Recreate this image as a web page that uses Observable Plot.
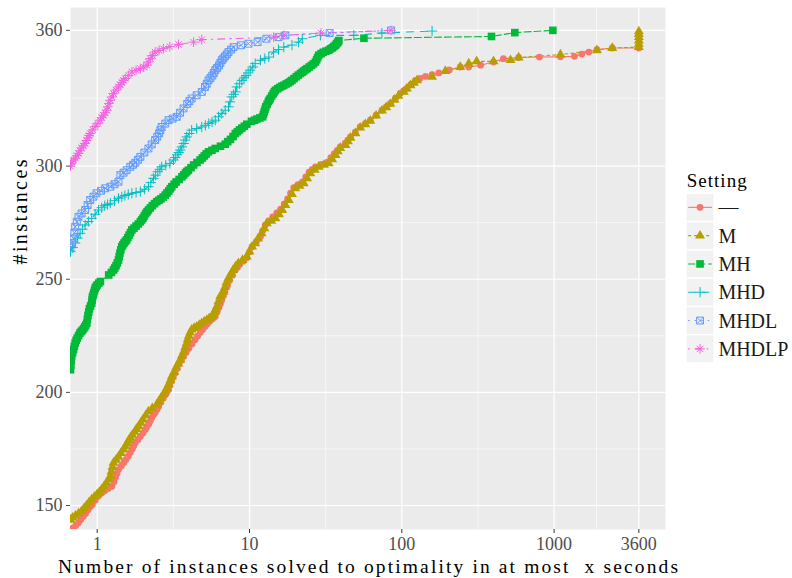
<!DOCTYPE html>
<html>
<head>
<meta charset="utf-8">
<script src="https://cdn.jsdelivr.net/npm/d3@7"></script>
<script src="https://cdn.jsdelivr.net/npm/@observablehq/plot@0.6"></script>
<style>
  html, body { margin: 0; padding: 0; background: #ffffff; }
  #wrap { position: relative; width: 792px; height: 578px; font-family: "Liberation Serif", serif; }
  #chart { position: absolute; left: 0; top: 0; }
  #legend { position: absolute; left: 680px; top: 165px; }
</style>
</head>
<body>
<div id="wrap"><div id="chart"></div><div id="legend"></div></div>
<script>
// ---------- data ----------
const settings = ["—", "M", "MH", "MHD", "MHDL", "MHDLP"];
const xTicks = [1, 10, 100, 1000, 3600];
const yTicks = [150, 200, 250, 300, 360];
const xTitle = "Number of instances solved to optimality in at most  x seconds";
const yTitle = "#instances";
const legendTitle = "Setting";

// [seconds, #instances] per setting
const solvedNone = [[0.68,139.6],[0.70,140.2],[0.727,141.3],[0.754,142.4],[0.78,143.8],[0.81,145.2],[0.84,146.5],[0.87,148],[0.90,149.3],[0.93,150.5],[0.97,152.3],[1.02,154.2],[1.07,155.5],[1.12,156.5],[1.18,157.5],[1.25,158.5],[1.29,160.5],[1.32,162.5],[1.35,164.2],[1.38,165.9],[1.44,167.5],[1.50,169],[1.55,170.4],[1.60,171.8],[1.65,173.4],[1.70,175],[1.74,176.4],[1.78,177.7],[1.85,179.1],[1.92,180.5],[2.0,182],[2.07,183.6],[2.12,184.8],[2.18,186],[2.23,187.3],[2.28,188.7],[2.34,190],[2.40,191],[2.47,192.4],[2.53,193.8],[2.62,195.6],[2.72,197.5],[2.83,199.3],[2.94,201.2],[3.0,203],[3.08,205],[3.16,206.8],[3.25,208.6],[3.35,210.5],[3.45,212.5],[3.57,214.2],[3.69,215.9],[3.84,217.7],[4.0,219.5],[4.2,221.4],[4.39,223.3],[4.57,224.9],[4.75,226.5],[4.93,227.8],[5.11,229.1],[5.3,230.3],[5.5,231.5],[5.73,232.5],[5.96,233.5],[6.13,235.5],[6.3,237.5],[6.44,239.2],[6.58,240.9],[6.74,242.7],[6.9,244.5],[7.15,247],[7.4,249.5],[7.73,251.8],[8.07,254.1],[8.33,255.3],[8.6,256.5],[9.1,258],[9.6,259.5],[10.0,262],[10.4,264.4],[11.1,266.6],[11.8,268.8],[12.2,271.4],[12.7,274],[13.4,275.8],[14.2,277.5],[15.1,279.3],[16.0,281],[16.9,283.3],[17.8,285.5],[18.6,288],[19.5,290.5],[20.8,291.8],[22.3,293],[23.4,295.2],[24.6,297.3],[25.8,298.5],[27.1,299.7],[29.7,300.8],[32.5,301.8],[34.2,303.7],[36,305.5],[37.7,307],[39.4,308.5],[42.5,310.2],[44.2,311.5],[46,312.9],[49.5,315],[53.3,317.3],[57.5,318.8],[62.1,320.3],[67.8,322.5],[74.1,324.7],[79,326.2],[84.2,327.7],[90.9,330],[98.1,332.3],[103,333.3],[108,334.3],[115,336.1],[123,337.9],[132,338.8],[143,339.7],[158,340.4],[175,341.2],[205,342.5],[242,343.8],[275,343.8],[329,344.6],[400,346],[465,347.5],[585,348],[800,348.2],[1100,348.3],[1360,348.5],[1520,349.5],[1690,350.4],[1910,351.5],[2410,352.2],[3600,352.2]];

const solvedM = [[0.668,143.7],[0.69,144.6],[0.72,145.5],[0.755,146.5],[0.79,147.5],[0.82,148.8],[0.85,150],[0.885,151.4],[0.92,152.7],[0.96,153.9],[1.0,155],[1.035,156],[1.07,157.1],[1.11,158.5],[1.15,160],[1.19,161.5],[1.22,163],[1.24,165],[1.26,167],[1.28,168.9],[1.33,170.2],[1.38,171.5],[1.43,173.1],[1.49,174.7],[1.53,176.1],[1.57,177.5],[1.61,178.7],[1.65,179.9],[1.70,181.2],[1.76,182.5],[1.81,183.8],[1.87,185],[1.93,186.5],[2.0,188],[2.08,189.8],[2.17,191.6],[2.3,193],[2.46,194.6],[2.54,196],[2.62,197.5],[2.71,199],[2.80,200.4],[2.87,202],[2.95,203.5],[3.02,205.3],[3.09,207.1],[3.2,209],[3.3,211],[3.4,212.7],[3.51,214.4],[3.6,216.2],[3.7,218],[3.78,219.9],[3.87,221.8],[3.93,223.4],[4.0,225],[4.08,226.4],[4.17,227.7],[4.33,228.4],[4.5,229],[4.68,229.8],[4.86,230.6],[5.05,231.3],[5.25,232],[5.45,232.8],[5.66,233.5],[5.78,234.5],[5.9,235.5],[6.0,236.8],[6.11,238],[6.26,240.2],[6.42,242.4],[6.58,243.5],[6.75,244.5],[6.9,246.5],[7.05,248.5],[7.28,250.5],[7.55,252.3],[7.8,254],[8.1,255.6],[8.45,257.1],[9.0,258.5],[9.6,260],[10.0,262.2],[10.4,264.4],[10.9,265.9],[11.4,268],[12.0,270.3],[12.5,272.5],[13.0,274.7],[13.9,275.8],[14.8,276.9],[15.6,278.7],[16.4,280.6],[17.2,282.8],[18.1,285],[19.0,287.6],[20.0,290.2],[21.3,291.3],[22.7,292.4],[23.9,294.6],[25.1,296.8],[26.8,298.3],[28.5,299.7],[30.8,300.5],[33.1,301.2],[34.9,303],[36.7,304.9],[38,306.5],[39.4,308],[42.7,309.3],[44.3,310.9],[46,312.5],[49.6,314.5],[53.3,317],[57.6,318.5],[62.1,320],[67.8,322.3],[74.1,324.5],[79,326],[84.2,327.5],[89.5,329.3],[95,331],[103,332.8],[108,334.3],[114,335.7],[120,336.8],[126,337.9],[158,339.4],[193,342],[242,343.8],[275,345.3],[310,346.3],[400,346.3],[517,346.8],[585,348],[1100,349.3],[1910,351.2],[2410,352.2],[3600,352.6],[3600,354],[3600,355.5],[3600,357],[3600,358.3],[3600,359.5]];

const solvedMH = [[0.668,210],[0.671,212],[0.674,214],[0.68,215.9],[0.69,217.5],[0.70,219],[0.708,220.4],[0.717,221.8],[0.728,223],[0.74,224],[0.755,225.1],[0.77,226.2],[0.785,226.9],[0.80,227.5],[0.815,228.2],[0.83,229],[0.843,229.8],[0.855,230.6],[0.862,232.3],[0.87,234],[0.88,235.5],[0.89,237],[0.905,238.2],[0.92,239.4],[0.925,240.7],[0.93,242],[0.94,243],[0.95,244],[0.96,245],[0.97,246.1],[0.985,246.8],[1.0,247.5],[1.025,248.3],[1.05,249],[1.19,251.9],[1.24,253],[1.28,254.1],[1.305,255],[1.33,256],[1.355,257.2],[1.38,258.5],[1.395,260],[1.41,261.5],[1.43,263],[1.45,264.4],[1.475,265.2],[1.50,266],[1.53,266.7],[1.56,267.4],[1.59,268.4],[1.62,269.5],[1.655,270.6],[1.69,271.8],[1.745,272.6],[1.80,273.5],[1.86,274.4],[1.92,275.4],[1.96,276.2],[2.0,277],[2.04,278],[2.08,279],[2.125,279.8],[2.17,280.6],[2.23,281.5],[2.30,282.5],[2.38,283.4],[2.46,284.3],[2.54,284.9],[2.62,285.5],[2.71,286.3],[2.80,287.2],[2.87,288.1],[2.95,289],[3.02,290],[3.09,290.9],[3.2,292],[3.3,293],[3.45,294.1],[3.6,295.3],[3.7,296.1],[3.8,297],[3.88,297.6],[3.97,298.2],[4.13,299.3],[4.3,300.5],[4.52,301.6],[4.74,302.7],[4.9,303.6],[5.05,304.5],[5.2,305.4],[5.38,306.3],[5.67,307],[5.96,307.8],[6.45,308.8],[6.93,309.7],[7.2,310.8],[7.5,311.8],[7.8,313.1],[8.07,314.4],[8.33,315.2],[8.6,316],[8.91,316.8],[9.25,317.6],[9.6,318.5],[10.3,319.8],[10.8,320.3],[11.2,320.8],[11.7,321.3],[12.2,321.8],[12.35,322.9],[12.5,324],[12.65,325.1],[12.8,326.2],[13.05,327.3],[13.3,328.5],[13.5,329.2],[13.7,329.9],[14.0,331],[14.3,332],[14.55,332.8],[14.8,333.5],[15.3,334.2],[15.8,334.8],[16.3,335.3],[16.8,335.7],[17.4,336.3],[18,336.8],[18.5,337.4],[19.0,337.9],[19.6,338.7],[20.3,339.5],[20.9,340.2],[21.6,340.9],[22.2,341.5],[22.7,342],[23.3,342.6],[23.9,343.1],[24.7,343.8],[25.5,344.5],[26.3,345.2],[27.1,346],[27.6,347],[28.0,348],[28.5,349],[29.5,349.7],[30.5,350.3],[31.8,350.8],[33.1,351.2],[34,351.8],[35,352.3],[35.8,352.9],[36.7,353.4],[37.2,354],[37.8,354.5],[38.2,355],[38.6,355.5],[56.4,356.5],[388,357.3],[552,359],[981,360]];

const solvedMHD = [[0.668,262.2],[0.69,264],[0.717,266],[0.745,268.2],[0.773,270.3],[0.80,272.1],[0.834,274],[0.875,275.5],[0.92,276.9],[0.97,278.7],[1.02,280.6],[1.07,281.6],[1.12,282.5],[1.17,283],[1.22,283.6],[1.3,284.7],[1.38,285.8],[1.45,286.4],[1.52,287],[1.6,287.5],[1.69,288],[1.8,288.3],[1.92,288.7],[2.05,289.8],[2.17,290.9],[2.25,292.7],[2.34,294.6],[2.42,296],[2.5,297.5],[2.58,298.6],[2.65,299.7],[2.82,300.4],[3.0,301.2],[3.17,302.7],[3.26,303.8],[3.35,305],[3.43,306],[3.51,307.1],[3.6,308.5],[3.7,310],[3.78,311.5],[3.87,312.9],[4.02,314.4],[4.17,315.9],[4.5,316.6],[4.86,317.3],[5.13,318],[5.4,318.8],[5.68,319.5],[5.96,320.3],[6.26,321.8],[6.58,323.3],[6.93,324.7],[7.28,326.2],[7.45,328.4],[7.65,330.6],[7.87,331.7],[8.1,332.8],[8.26,335],[8.58,336.4],[8.91,337.9],[9.2,339],[9.5,340],[9.8,341.2],[10.1,342.4],[10.5,343.8],[10.9,345.3],[11.8,346.8],[12.6,347.5],[13.4,348.2],[14.4,350.4],[15.5,351.5],[16.8,352.6],[19,353.5],[21.0,354.8],[22.2,356.3],[29.2,357.8],[48.4,357.8],[74,358.8],[158,359.7]];

const solvedMHDL = [[0.668,264],[0.685,266],[0.70,268],[0.708,270.6],[0.717,273.2],[0.735,275.4],[0.754,277.6],[0.79,279.1],[0.834,280.6],[0.865,282.8],[0.90,285],[0.945,286.5],[0.99,288],[1.06,289.1],[1.13,290.2],[1.22,290.9],[1.3,292],[1.38,293.1],[1.42,296],[1.49,297.1],[1.56,298.2],[1.65,299.7],[1.72,300.6],[1.78,301.5],[1.85,302.8],[1.92,304.1],[2.04,306],[2.17,307.8],[2.28,309.6],[2.40,311.5],[2.48,313],[2.55,314.5],[2.6,315.9],[2.65,317.3],[2.8,318.8],[2.94,320.3],[3.13,321],[3.33,321.8],[3.5,323.6],[3.69,325.5],[3.9,327.5],[4.03,328.7],[4.17,329.9],[4.5,331.3],[4.86,332.8],[5.1,335],[5.24,336.4],[5.38,337.9],[5.54,338.9],[5.7,340],[5.83,341.2],[5.96,342.4],[6.13,343.4],[6.3,344.5],[6.44,345.6],[6.58,346.8],[6.74,347.6],[6.9,348.5],[7.1,349.4],[7.28,350.4],[7.57,351.5],[7.86,352.6],[8.8,353.4],[9.84,354.1],[11.3,354.8],[12.9,356.3],[15.5,357],[17.2,357.8],[33.6,358.8],[85,360]];

const solvedMHDLP = [[0.668,300],[0.674,301],[0.681,301.9],[0.70,302.7],[0.72,303.5],[0.737,304.6],[0.754,305.6],[0.77,306.8],[0.79,308],[0.81,309],[0.834,310],[0.85,311.3],[0.87,312.5],[0.885,313.5],[0.90,314.4],[0.935,316],[0.97,317.5],[1.01,318.9],[1.046,320.3],[1.07,321.4],[1.10,322.5],[1.128,323.6],[1.156,324.7],[1.175,326.2],[1.195,327.7],[1.217,329.1],[1.25,330.6],[1.28,332.1],[1.33,333.6],[1.38,335],[1.415,336],[1.45,337],[1.49,337.9],[1.53,338.7],[1.61,340.1],[1.69,341.6],[1.8,342.3],[1.92,343.1],[2.02,343.8],[2.12,344.6],[2.17,346],[2.23,347.5],[2.31,348.9],[2.40,350.4],[2.55,351.1],[2.72,351.9],[3.0,352.8],[3.42,353.8],[4.29,354.8],[4.86,355.9],[14.4,357],[16.8,357.8],[29.5,358.8],[85,360]];

// ---------- styles ----------
const seriesData = [solvedNone, solvedM, solvedMH, solvedMHD, solvedMHDL, solvedMHDLP];
const colors = ["#F8766D", "#B79F00", "#00BA38", "#00BFC4", "#619CFF", "#F564E3"];
const dashes = [null, "3,3", "7,3", "7,7", "1.5,5", "1.5,5,7,5"];
const markers = [
  [{symbol: "circle", r: 3.4, filled: true}],
  [{symbol: "triangle", r: 3.7, filled: true}],
  [{symbol: "square", r: 4.3, filled: true}],
  [{symbol: "plus", r: 3.4, filled: false}],
  [{symbol: "square", r: 3.9, filled: false}, {symbol: "times", r: 3.2, filled: false}],
  [{symbol: "plus", r: 3.2, filled: false}, {symbol: "times", r: 3.0, filled: false}]
];
const d3Symbols = {circle: d3.symbolCircle, triangle: d3.symbolTriangle, square: d3.symbolSquare, plus: d3.symbolPlus, times: d3.symbolTimes};

const xMinor = xTicks.slice(1).map((d, i) => Math.sqrt(d * xTicks[i]));
const yMinor = yTicks.slice(1).map((d, i) => (d + yTicks[i]) / 2);

const lineMarks = seriesData.map((data, i) => Plot.line(data, {
  x: d => d[0], y: d => d[1], stroke: colors[i], strokeWidth: 1.1,
  strokeDasharray: dashes[i] || undefined, clip: true
}));
const dotMarks = seriesData.flatMap((data, i) => markers[i].map(m => Plot.dot(data, {
  x: d => d[0], y: d => d[1], symbol: m.symbol, r: m.r,
  fill: m.filled ? colors[i] : "none", stroke: m.filled ? "none" : colors[i],
  strokeWidth: 1, clip: true
})));

const chart = Plot.plot({
  width: 792, height: 578,
  marginLeft: 70, marginRight: 127, marginTop: 7, marginBottom: 49,
  x: {type: "log", domain: [0.668, 5386]},
  y: {domain: [139.4, 370.1]},
  style: {fontFamily: "Liberation Serif, serif", background: "transparent", overflow: "visible"},
  marks: [
    Plot.frame({fill: "#EBEBEB", stroke: "none"}),
    Plot.ruleX(xMinor, {stroke: "white", strokeWidth: 0.6}),
    Plot.ruleY(yMinor, {stroke: "white", strokeWidth: 0.6}),
    Plot.ruleX(xTicks, {stroke: "white", strokeWidth: 1.2}),
    Plot.ruleY(yTicks, {stroke: "white", strokeWidth: 1.2}),
    ...lineMarks,
    ...dotMarks,
    Plot.axisX({ticks: xTicks, tickFormat: () => "", tickSize: 4, stroke: "#333333", label: null}),
    Plot.text(xTicks, {x: d => d, text: d => String(d), frameAnchor: "bottom", lineAnchor: "top", dy: 7.7, fontSize: 18, fill: "#4D4D4D"}),
    Plot.axisY({ticks: yTicks, tickFormat: d => String(d), tickSize: 4, tickPadding: 4, fontSize: 18, color: "#4D4D4D", label: null}),
    Plot.text([xTitle], {frameAnchor: "bottom", lineAnchor: "middle", dy: 36.8, fontSize: 19.5, fill: "black"}),
    Plot.text([yTitle], {frameAnchor: "left", lineAnchor: "middle", dx: -50.4, dy: -4, rotate: -90, fontSize: 20, fill: "black"})
  ]
});
chart.querySelectorAll("text").forEach(t => {
  t.style.whiteSpace = "pre";
  if (t.textContent === xTitle) { t.setAttribute("textLength", 620); t.setAttribute("lengthAdjust", "spacing"); }
  if (t.textContent === yTitle) { t.setAttribute("textLength", 105); t.setAttribute("lengthAdjust", "spacing"); }
});
document.getElementById("chart").appendChild(chart);

// ---------- legend ----------
const key = 26.7, pitch = 28.3, keyX = 6.7, keyY0 = 29;
const lsvg = d3.select("#legend").append("svg").attr("width", 112).attr("height", 210)
  .style("font-family", "Liberation Serif, serif");
lsvg.append("text").attr("x", keyX).attr("y", 21.7).attr("font-size", 19).attr("fill", "black")
  .attr("textLength", 60).attr("lengthAdjust", "spacing").text(legendTitle);
settings.forEach((name, i) => {
  const g = lsvg.append("g").attr("transform", `translate(${keyX},${keyY0 + i * pitch})`);
  g.append("rect").attr("width", key).attr("height", key).attr("fill", "#F2F2F2");
  g.append("line").attr("x1", 1.5).attr("x2", key - 1.5).attr("y1", key / 2).attr("y2", key / 2)
    .attr("stroke", colors[i]).attr("stroke-width", 1.1).attr("stroke-dasharray", dashes[i]);
  markers[i].forEach(m => {
    g.append("path").attr("transform", `translate(${key / 2},${key / 2})`)
      .attr("d", d3.symbol(d3Symbols[m.symbol], Math.PI * m.r * m.r)())
      .attr("fill", m.filled ? colors[i] : "none").attr("stroke", m.filled ? "none" : colors[i]).attr("stroke-width", 1);
  });
  g.append("text").attr("x", key + 5).attr("y", key / 2).attr("dy", "0.35em").attr("font-size", 20)
    .attr("fill", "#1A1A1A").text(name);
});
</script>
</body>
</html>
